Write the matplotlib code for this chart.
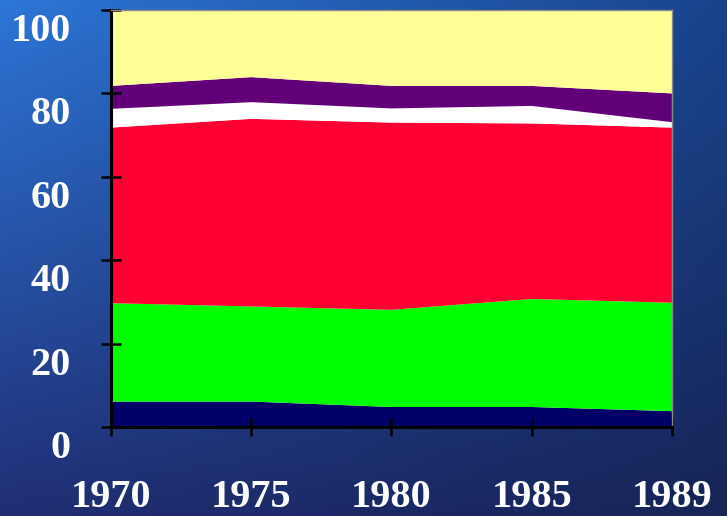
import matplotlib
matplotlib.use("Agg")
import matplotlib.pyplot as plt
import matplotlib.transforms as mtransforms
import numpy as np

years = ["1970", "1975", "1980", "1985", "1989"]

# shares (percent) of each band, bottom to top
navy = [6.1, 6.1, 4.8, 4.8, 3.8]
green = [23.6, 22.8, 23.3, 25.9, 26.0]
red = [42.1, 45.0, 44.9, 42.1, 42.0]
white = [4.5, 4.0, 3.4, 4.2, 1.3]
purple = [5.5, 6.0, 5.4, 4.8, 6.9]
yellow = [18.2, 16.1, 18.2, 18.2, 20.0]

band_colors = ["#000066", "#00ff00", "#ff0033", "#ffffff", "#620078", "#ffff99"]

fig = plt.figure(figsize=(7.27, 5.16), dpi=100)

# blue slide background
bg = fig.add_axes([0, 0, 1, 1], zorder=-10)
h, w = 200, 280
yy, xx = np.mgrid[0:1:h * 1j, 0:1:w * 1j]
tl = np.array([45, 118, 215]) / 255
tr = np.array([25, 68, 140]) / 255
bl = np.array([32, 46, 116]) / 255
br = np.array([22, 36, 86]) / 255
img = ((1 - xx)[..., None] * (1 - yy)[..., None] * tl + xx[..., None] * (1 - yy)[..., None] * tr
       + (1 - xx)[..., None] * yy[..., None] * bl + xx[..., None] * yy[..., None] * br)
bg.imshow(img, aspect="auto", extent=[0, 1, 0, 1])
bg.axis("off")

ax = fig.add_axes([0.1527, 0.1725, 0.7716, 0.8081])
x = np.arange(len(years))
ax.stackplot(x, navy, green, red, white, purple, yellow, colors=band_colors, linewidth=0)

ax.set_xlim(0, len(years) - 1)
ax.set_ylim(0, 100)
ax.set_xticks(x)
ax.set_xticklabels(years)
ax.set_yticks(range(0, 101, 20))

for s in ["left", "bottom"]:
    ax.spines[s].set_color("black")
    ax.spines[s].set_linewidth(2.2)
for s in ["top", "right"]:
    ax.spines[s].set_color("#8a8a8a")
    ax.spines[s].set_linewidth(1)

ax.tick_params(axis="y", direction="inout", length=14, width=1.8, pad=22)
ax.tick_params(axis="x", direction="inout", length=13, width=1.8, pad=31)

for lab in ax.get_xticklabels() + ax.get_yticklabels():
    lab.set_fontfamily("Liberation Serif")
    lab.set_fontweight("bold")
    lab.set_fontsize(29)
    lab.set_color("white")

off = mtransforms.ScaledTranslation(0, -17 / 100, fig.dpi_scale_trans)
for lab in ax.get_yticklabels():
    lab.set_transform(lab.get_transform() + off)

fig.savefig("out.png", dpi=100)
